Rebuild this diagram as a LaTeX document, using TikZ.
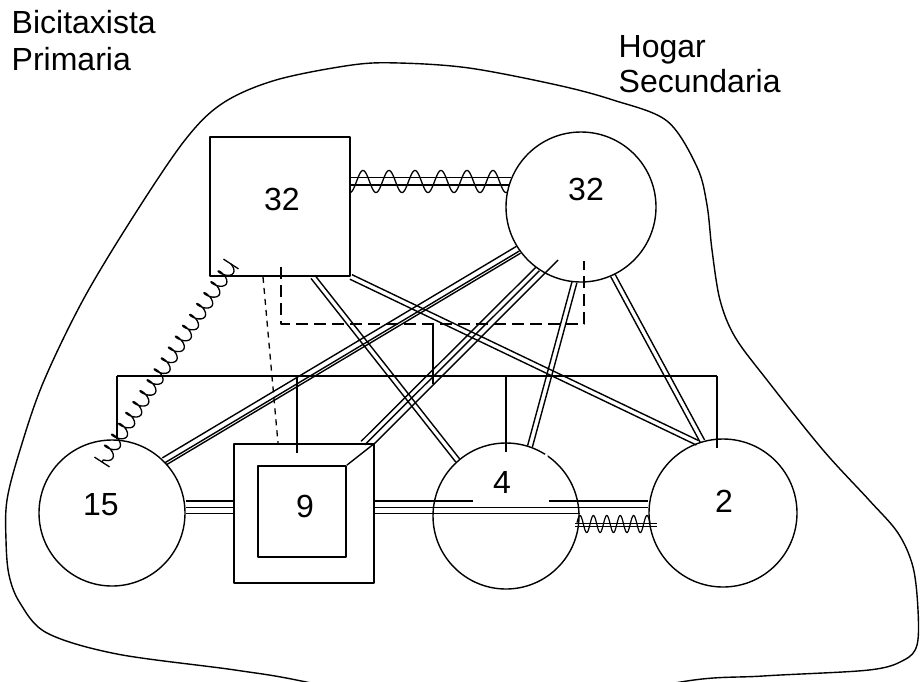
\documentclass[tikz,border=0pt]{standalone}
\usepackage{fontspec}
\setmainfont{Liberation Sans}
\usetikzlibrary{calc,decorations.pathmorphing}
\newcommand\dblline[3][2.5pt]{%
  \draw ($(#2)!#1!90:(#3)$) -- ($(#3)!#1!-90:(#2)$);
  \draw ($(#2)!#1!-90:(#3)$) -- ($(#3)!#1!90:(#2)$);}
\begin{document}
\begin{tikzpicture}[x=1pt,y=-1pt, line width=1.4pt, line join=round,
  circ/.style={circle, draw, inner sep=0pt, minimum size=#1},
  sqbox/.style={rectangle, draw, inner sep=0pt, line width=1.8pt},
  num/.style={inner sep=0pt, anchor=base, font=\fontsize{32}{38}\selectfont},
  lbl/.style={inner sep=0pt, anchor=base west, font=\fontsize{32}{38}\selectfont},
  dsh/.style={dash pattern=on 12pt off 6pt, line width=1.5pt},
  dsh2/.style={dash pattern=on 6pt off 5pt, line width=1.3pt}]
\useasboundingbox (0,0) rectangle (920,681);
\clip (0,0) rectangle (920,681);
\fill[white] (0,0) rectangle (920,681);

% outline of the group
\draw[tension=0.55] plot[smooth cycle] coordinates {
 (185,140) (223,103) (276,80) (352,65) (399,63) (469,68) (557,85) (613,100)
 (667,121) (697,167) (707,205) (712,250) (720,300) (735,337) (767,380)
 (823,450) (869,500) (898,533) (913,567) (918,610) (917,645) (904,660)
 (869,670) (763,676) (675,683) (495,725) (311,683) (235,670) (117,654)
 (47,633) (20,603) (9,575) (6,540) (7,500) (20,450) (43,383) (83,300) (133,217)};

% text labels
\node[lbl] (bic) at (11,33) {Bicitaxista};
\node[lbl] (pri) at (11,70) {Primaria};
\node[lbl] (hog) at (618,57) {Hogar};
\node[lbl] (sec) at (618,92) {Secundaria};

% members
\node[sqbox, minimum width=140pt, minimum height=139pt] (sq32) at (280,206.5) {};
\node[circ=150pt] (c32) at (581,207) {};
\node[circ=146pt] (c15) at (112,513) {};
\node[circ=146pt] (c4) at (506,516) {};
\node[circ=148pt] (c2) at (723,513) {};
\node[sqbox, minimum width=140pt, minimum height=139pt] (b9o) at (304,513.5) {};
\node[sqbox, minimum width=88pt, minimum height=91pt] (b9i) at (302,511.5) {};

\node[num] (t32s) at (282,210) {32};
\node[num] (t32c) at (586,200) {32};
\node[num] (t15) at (101,515) {15};
\node[num] (t9) at (305,517) {9};
\node[num] (t4) at (502,493) {4};
\node[num] (t2) at (724,512) {2};

% gap in the outline of 4
\draw[white, line width=3pt] (c4.56) arc[start angle=-56, end angle=-69, radius=73.7pt];

% bus of the household
\coordinate (bl) at (117,376);
\coordinate (br) at (717,376);
\coordinate (v9) at (297,376);
\coordinate (vh) at (433,324);
\draw (bl) -- (br);
\draw (bl) -- (bl |- c15.north);
\draw (v9) -- ++(0,77);
\draw (c4.north |- bl) -- ++(0,76);
\draw (br) -- ++(0,72);
\draw (vh) -- ++(0,60);

% dashed bracket
\coordinate (dk1) at (281,267);
\coordinate (dk2) at (281,324);
\coordinate (dk3) at (584,324);
\coordinate (dk4) at (584,261);
\draw[dsh] (dk1) -- (dk2) -- (dk3) -- (dk4);
\draw[dsh2] ($(sq32.south)+(-17,0)$) -- ($(b9o.north)+(-26,0)$);

% double lines
\coordinate (sqb) at ($(sq32.south)+(33,0)$);
\coordinate (l9) at ($(b9o.north east)+(-12,0)$);
\dblline{sq32.south east}{c2.110}
\dblline{sqb}{c4.131}
\dblline{c32.265}{c4.71}
\dblline{c32.295}{c2.106}
\dblline{c32.235}{l9}
% triple to 15
\draw ($(c32.214)!3.5pt!-90:(c15.45)$) -- ($(c15.45)!3.5pt!90:(c32.214)$);
\draw ($(c32.214)!2pt!90:(c15.45)$) -- ($(c15.45)!2pt!-90:(c32.214)$);
\draw ($(c32.214)!4.5pt!90:(c15.45)$) -- ($(c15.45)!4.5pt!-90:(c32.214)$);
% single line to the corner of 9
\coordinate (l3s) at (558,260);
\draw (l3s) -- (b9o.north east) -- (b9i.north east);

% horizontal triple lines
\coordinate (r1) at (0,501);
\coordinate (r2) at (0,507.3);
\coordinate (r3) at (0,513.3);
\coordinate (g1) at (473,501);
\coordinate (g2) at (549,501);
\draw (c15.east |- r1) -- (b9o.west |- r1);
\draw (c15.east |- r2) -- (b9o.west |- r2);
\draw (c15.east |- r3) -- (b9o.west |- r3);
\draw (b9o.east |- r1) -- (g1);
\draw (g2) -- (c2.west |- r1);
\draw (b9o.east |- r2) -- (c2.west |- r2);
\draw (b9o.east |- r3) -- (c4.east |- r3);

% conflict 32 -- 32
\draw (sq32.east |- c32.157) -- (c32.157);
\draw (sq32.east |- c32.163) -- (c32.163);
\draw[line width=1.3pt] plot[domain=350:507, samples=240, smooth] (\x, {181.5 + 11*cos(13.846*(\x-350))});

% conflict 4 -- 2
\coordinate (w1) at (575,523.3);
\coordinate (w2) at (657,523.3);
\coordinate (w3) at (575,526.7);
\coordinate (w4) at (657,526.7);
\draw[line width=1.2pt] (w1) -- (w2);
\draw[line width=1.2pt] (w3) -- (w4);
\draw[line width=1.2pt] plot[domain=577:650, samples=200, smooth] (\x, {524 - 8.5*cos(26.866*(\x-580))});

% coil 32 -- 15
\coordinate (k1) at (231,264);
\coordinate (k2) at (102,462);
\draw[line width=1.3pt, decorate, decoration={coil, amplitude=7pt, segment length=13pt, aspect=0.45}] (k1) -- (k2);
\draw[line width=1.3pt] ($(k1)!9pt!90:(k2)$) -- ($(k1)!9pt!-90:(k2)$);
\draw[line width=1.3pt] ($(k2)!9pt!90:(k1)$) -- ($(k2)!9pt!-90:(k1)$);
\end{tikzpicture}
\end{document}
